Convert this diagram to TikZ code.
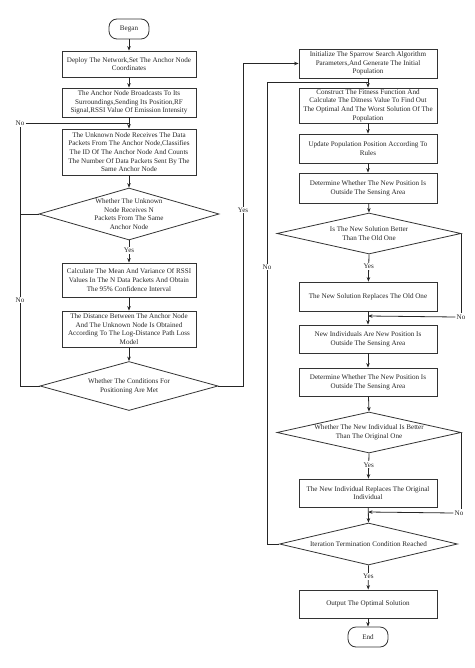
\documentclass[tikz,border=0pt]{standalone}
\usepackage{fontspec}
\setmainfont{Liberation Serif}
\usetikzlibrary{shapes.geometric,arrows.meta}
\begin{document}
\begin{tikzpicture}[x=1pt,y=-1pt,
  every node/.style={font=\fontsize{7.1}{8.7}\selectfont, text=black!85},
  box/.style={draw=black!80, line width=0.8pt, fill=white, rectangle, align=center, inner sep=1pt},
  lbox/.style={box, minimum width=134pt},
  rbox/.style={box, minimum width=138pt},
  term/.style={draw=black!80, line width=0.8pt, fill=white, rounded corners=8pt, minimum width=40pt, minimum height=20pt, inner sep=1pt},
  dia/.style={draw=black!80, line width=0.8pt, fill=white, diamond, inner sep=0pt},
  dtext/.style={align=center, inner sep=0pt},
  lab/.style={fill=white, inner sep=1pt},
  cn/.style={draw=black!85, line width=0.8pt},
  arr/.style={cn, -{Stealth[length=4.5pt,width=3.5pt]}}
]
\useasboundingbox (0,0) rectangle (474,668);
\fill[white] (0,0) rectangle (474,668);

% ---------- left column ----------
\node[term] (begin) at (129,29) {Began};
\node[lbox, minimum height=26pt] (deploy) at (129,64) {Deploy The Network,Set The Anchor Node\\Coordinates};
\node[lbox, minimum height=29pt] (bcast) at (129,102.5) {The Anchor Node Broadcasts To Its\\Surroundings,Sending Its Position,RF\\Signal,RSSI Value Of Emission Intensity};
\node[lbox, minimum height=46pt] (unknown) at (129,152) {The Unknown Node Receives The Data\\Packets From The Anchor Node,Classifies\\The ID Of The Anchor Node And Counts\\The Number Of Data Packets Sent By The\\Same Anchor Node};
\node[dia, minimum width=180pt, minimum height=52pt] (d1) at (129,214) {};
\node[dtext] (d1t) at (d1.center) {Whether The Unknown\\Node Receives N\\Packets From The Same\\Anchor Node};
\node[lbox, minimum height=34pt] (calc) at (129,280) {Calculate The Mean And Variance Of RSSI\\Values In The N Data Packets And Obtain\\The 95\% Confidence Interval};
\node[lbox, minimum height=36pt] (dist) at (129,329) {The Distance Between The Anchor Node\\And The Unknown Node Is Obtained\\According To The Log-Distance Path Loss\\Model};
\node[dia, minimum width=178pt, minimum height=49pt] (d2) at (129,386) {};
\node[dtext] (d2t) at (d2.center) {Whether The Conditions For\\Positioning Are Met};

% ---------- right column ----------
\node[rbox, minimum height=29pt] (init) at (368,63.5) {Initialize The Sparrow Search Algorithm\\Parameters,And Generate The Initial\\Population};
\node[rbox, minimum height=35pt] (fit) at (368,105.5) {Construct The Fitness Function And\\Calculate The Ditness Value To Find Out\\The Optimal And The Worst Solution Of The\\Population};
\node[rbox, minimum height=29pt] (upd) at (368,148.5) {Update Population Position According To\\Rules};
\node[rbox, minimum height=30pt] (det) at (368,188) {Determine Whether The New Position Is\\Outside The Sensing Area};
\node[dia, minimum width=184pt, minimum height=41pt] (d3) at (369,233.5) {};
\node[dtext] (d3t) at (d3.center) {Is The New Solution Better\\Than The Old One};
\node[rbox, minimum height=29pt] (rep) at (368,296.5) {The New Solution Replaces The Old One};
\node[rbox, minimum height=28pt] (newind) at (368,339) {New Individuals Are New Position Is\\Outside The Sensing Area};
\node[rbox, minimum height=28pt] (det2) at (368,382) {Determine Whether The New Position Is\\Outside The Sensing Area};
\node[dia, minimum width=184pt, minimum height=41pt] (d4) at (369,432.5) {};
\node[dtext] (d4t) at (d4.center) {Whether The New Individual Is Better\\Than The Original One};
\node[rbox, minimum height=28pt] (rep2) at (368,493) {The New Individual Replaces The Original\\Individual};
\node[dia, minimum width=178pt, minimum height=42pt] (d5) at (368.5,544) {};
\node[dtext] (d5t) at (d5.center) {Iteration Termination Condition Reached};
\node[rbox, minimum height=28pt] (out) at (368,604) {Output The Optimal Solution};
\node[term] (end) at (368,637) {End};

% ---------- junction coordinates ----------
\coordinate (jl) at (129,123);
\coordinate (jr) at (368,82);
\coordinate (j3) at (368,316);
\coordinate (j4) at (368,512);
\coordinate (lx) at (20,386);
\coordinate (ly) at (243,386);
\coordinate (rl) at (267,544);

% ---------- left connectors ----------
\draw[arr] (begin) -- (deploy);
\draw[arr] (deploy) -- (bcast);
\draw[arr] (bcast) -- (unknown);
\draw[arr] (unknown) -- (d1);
\draw[arr] (d1) -- (calc) node[lab, pos=0.45] (yes1) {Yes};
\draw[arr] (calc) -- (dist);
\draw[arr] (dist) -- (d2);
\node[inner sep=1pt] (nol1) at (20,123) {No};
\draw[cn] (d2.west) -- (lx) -- (nol1.south);
\draw[cn] (nol1.east) -- (jl);
\draw[cn] (d1.west) -- (d1.west -| lx);
\node[lab] (nol2) at (20,300) {No};

% ---------- Yes to right column ----------
\draw[arr] (d2.east) -- (ly) |- (init.west);
\node[lab] (yes2) at (243,210) {Yes};

% ---------- right connectors ----------
\draw[arr] (init) -- (fit);
\draw[arr] (fit) -- (upd);
\draw[arr] (upd) -- (det);
\draw[arr] (det) -- (d3.north);
\draw[arr] (d3.south) -- (rep) node[lab, pos=0.45] (yes3) {Yes};
\draw[arr] (rep) -- (newind);
\node[inner sep=1pt] (no3) at (461,317) {No};
\draw[cn] (d3.east) -- (no3.north -| d3.east);
\draw[arr] (no3.west) -- (j3);
\draw[arr] (newind) -- (det2);
\draw[arr] (det2) -- (d4.north);
\draw[arr] (d4.south) -- (rep2) node[lab, pos=0.45] (yes4) {Yes};
\node[inner sep=1pt] (no4) at (459,513) {No};
\draw[cn] (d4.east) -- (no4.north -| d4.east);
\draw[arr] (no4.west) -- (j4);
\draw[arr] (rep2) -- (d5.north);
\draw[arr] (d5.south) -- (out) node[lab, pos=0.45] (yes5) {Yes};
\draw[arr] (out) -- (end);
\draw[cn] (d5.west) -- (rl) |- (jr);
\node[lab] (no5) at (267,267) {No};
\end{tikzpicture}
\end{document}
